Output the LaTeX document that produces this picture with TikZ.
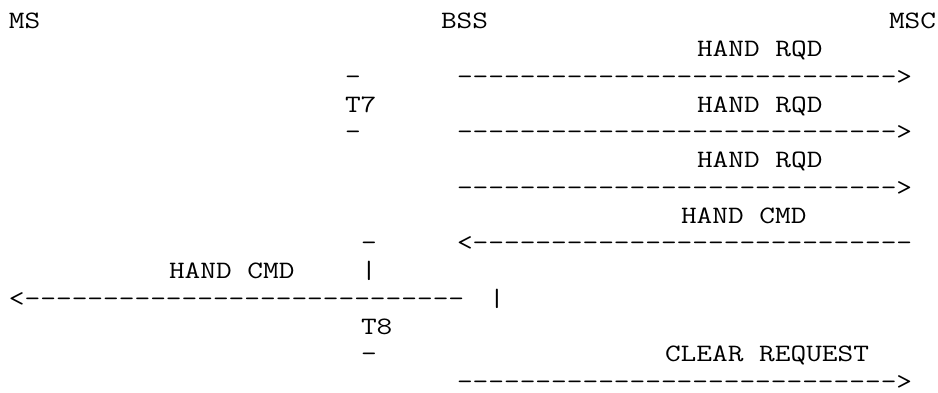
\documentclass[tikz,border=0pt]{standalone}
\usepackage{fontspec}
\usepackage{graphicx}
\usepackage{tikz}
% widen the typewriter face to the column pitch of the plot
\newcommand{\mono}[1]{\scalebox{1.219}[1]{#1}}
\tikzset{
  ascii/.style={
    anchor=base west,
    inner sep=0pt,
    outer sep=0pt,
    font=\ttfamily\fontsize{12.5}{12.5}\selectfont
  },
  entity/.style={ascii},
  msglabel/.style={ascii},
  msgline/.style={ascii},
  timer/.style={ascii}
}

\begin{document}
\begin{tikzpicture}[x=8pt,y=-13.88pt]
    \useasboundingbox (-4.5pt,14.4pt) rectangle (464.5pt,-181.6pt);

    % entities
    \node[entity] (ms)  at (0,0)  {\mono{MS}};
    \node[entity] (bss) at (27,0) {\mono{BSS}};
    \node[entity] (msc) at (55,0) {\mono{MSC}};

    % handover required, repeated under T7
    \node[msglabel] (rqd1)  at (43,1) {\mono{HAND RQD}};
    \node[timer]    (t7a)   at (21,2) {\mono{-}};
    \node[msgline]  (rqd1l) at (28,2) {\mono{---------------------------->}};
    \node[timer]    (t7)    at (21,3) {\mono{T7}};
    \node[msglabel] (rqd2)  at (43,3) {\mono{HAND RQD}};
    \node[timer]    (t7b)   at (21,4) {\mono{-}};
    \node[msgline]  (rqd2l) at (28,4) {\mono{---------------------------->}};
    \node[msglabel] (rqd3)  at (43,5) {\mono{HAND RQD}};
    \node[msgline]  (rqd3l) at (28,6) {\mono{---------------------------->}};

    % handover command, T8 started
    \node[msglabel] (cmd1)  at (42,7) {\mono{HAND CMD}};
    \node[timer]    (t8a)   at (22,8) {\mono{-}};
    \node[msgline]  (cmd1l) at (28,8) {\mono{<----------------------------}};
    \node[msglabel] (cmd2)  at (10,9) {\mono{HAND CMD}};
    \node[timer]    (t8b)   at (22,9) {\mono{|}};
    \node[msgline]  (cmd2l) at (0,10) {\mono{<----------------------------}};
    \node[timer]    (bar)   at (30,10) {\mono{|}};
    \node[timer]    (t8)    at (22,11) {\mono{T8}};
    \node[timer]    (t8c)   at (22,12) {\mono{-}};

    % clear request
    \node[msglabel] (clr)   at (41,12) {\mono{CLEAR REQUEST}};
    \node[msgline]  (clrl)  at (28,13) {\mono{---------------------------->}};
\end{tikzpicture}
\end{document}
